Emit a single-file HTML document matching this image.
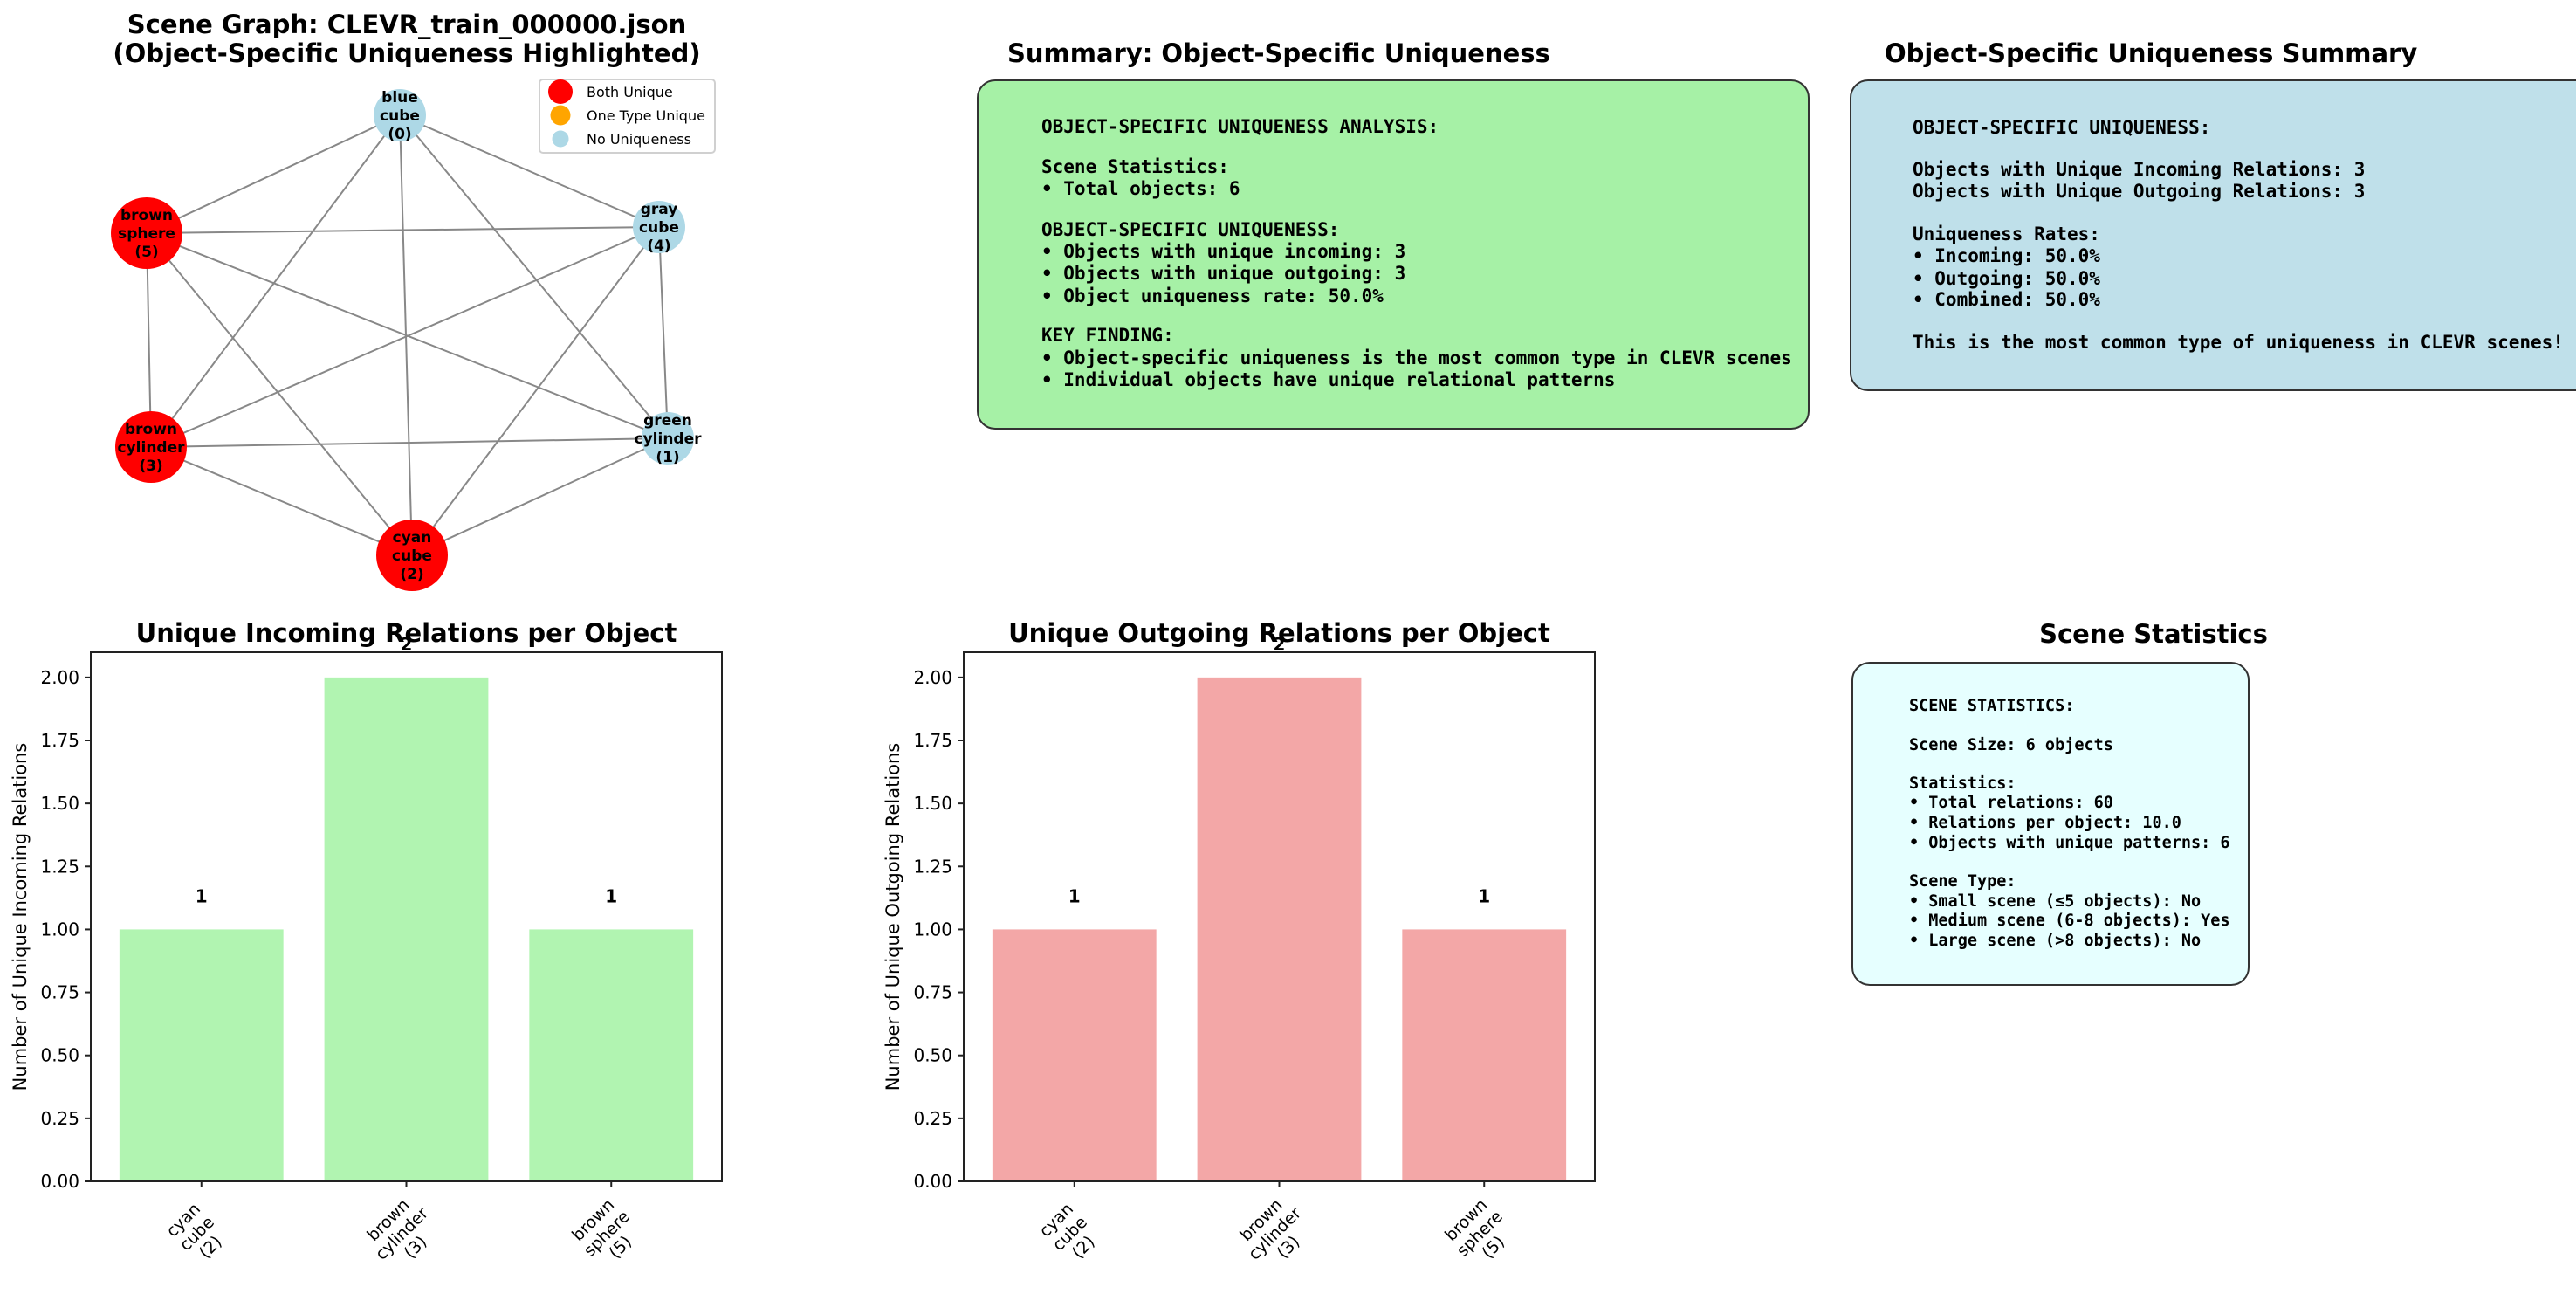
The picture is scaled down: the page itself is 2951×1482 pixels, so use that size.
<!DOCTYPE html>
<html><head><meta charset="utf-8"><title>CLEVR Object-Specific Uniqueness</title>
<style>
html,body{margin:0;padding:0;background:#fff;}
svg{display:block;}
text{font-family:"DejaVu Sans","Liberation Sans",sans-serif;fill:#000;}
.mono{font-family:"DejaVu Sans Mono","Liberation Mono",monospace;font-weight:bold;font-size:21px;}
.mono2{font-family:"DejaVu Sans Mono","Liberation Mono",monospace;font-weight:bold;font-size:18.5px;}
.ttl{font-weight:bold;font-size:29px;}
</style></head>
<body>
<svg id="fig" width="2951" height="1482" viewBox="0 0 2951 1482" xmlns="http://www.w3.org/2000/svg">
  <g id="graph">
    <text class="ttl" x="466" y="38" text-anchor="middle">Scene Graph: CLEVR_train_000000.json</text>
    <text class="ttl" x="466" y="71" text-anchor="middle">(Object-Specific Uniqueness Highlighted)</text>
    <g id="edges"></g>
    <g id="nodes"></g>
    <g>
      <rect x="618" y="91" width="201" height="84" rx="4" fill="#fff" stroke="#d0d0d0" stroke-width="2"/>
      <circle cx="642" cy="105" r="14" fill="#ff0000"/>
      <text x="672" y="111" font-size="16">Both Unique</text>
      <circle cx="642" cy="132" r="11.5" fill="#ffa500"/>
      <text x="672" y="138" font-size="16">One Type Unique</text>
      <circle cx="642" cy="159" r="9.5" fill="#add8e6"/>
      <text x="672" y="165" font-size="16">No Uniqueness</text>
    </g>
  </g>

  <g>
    <text class="ttl" x="1154" y="71">Summary: Object-Specific Uniqueness</text>
    <rect x="1120" y="92" width="952" height="399" rx="20" fill="#a6f1a6" stroke="#333" stroke-width="2"/>
    <g>
      <text class="mono" x="1193" y="152">OBJECT-SPECIFIC UNIQUENESS ANALYSIS:</text>
      <text class="mono" x="1193" y="198">Scene Statistics:</text>
      <text class="mono" x="1193" y="223">• Total objects: 6</text>
      <text class="mono" x="1193" y="270">OBJECT-SPECIFIC UNIQUENESS:</text>
      <text class="mono" x="1193" y="295">• Objects with unique incoming: 3</text>
      <text class="mono" x="1193" y="320">• Objects with unique outgoing: 3</text>
      <text class="mono" x="1193" y="346">• Object uniqueness rate: 50.0%</text>
      <text class="mono" x="1193" y="391">KEY FINDING:</text>
      <text class="mono" x="1193" y="417">• Object-specific uniqueness is the most common type in CLEVR scenes</text>
      <text class="mono" x="1193" y="442">• Individual objects have unique relational patterns</text>
    </g>
  </g>

  <g>
    <text class="ttl" x="2159" y="71">Object-Specific Uniqueness Summary</text>
    <rect x="2120" y="92" width="860" height="355" rx="20" fill="#bfe0ea" stroke="#333" stroke-width="2"/>
    <g>
      <text class="mono" x="2191" y="153">OBJECT-SPECIFIC UNIQUENESS:</text>
      <text class="mono" x="2191" y="201">Objects with Unique Incoming Relations: 3</text>
      <text class="mono" x="2191" y="226">Objects with Unique Outgoing Relations: 3</text>
      <text class="mono" x="2191" y="275">Uniqueness Rates:</text>
      <text class="mono" x="2191" y="300">• Incoming: 50.0%</text>
      <text class="mono" x="2191" y="326">• Outgoing: 50.0%</text>
      <text class="mono" x="2191" y="350">• Combined: 50.0%</text>
      <text class="mono" x="2191" y="399">This is the most common type of uniqueness in CLEVR scenes!</text>
    </g>
  </g>

  <g>
    <text class="ttl" x="2467" y="736" text-anchor="middle">Scene Statistics</text>
    <rect x="2122" y="759" width="454" height="369" rx="20" fill="#e6ffff" stroke="#333" stroke-width="2"/>
    <g>
      <text class="mono2" x="2187" y="814">SCENE STATISTICS:</text>
      <text class="mono2" x="2187" y="859">Scene Size: 6 objects</text>
      <text class="mono2" x="2187" y="903">Statistics:</text>
      <text class="mono2" x="2187" y="925">• Total relations: 60</text>
      <text class="mono2" x="2187" y="948">• Relations per object: 10.0</text>
      <text class="mono2" x="2187" y="971">• Objects with unique patterns: 6</text>
      <text class="mono2" x="2187" y="1015">Scene Type:</text>
      <text class="mono2" x="2187" y="1038">• Small scene (≤5 objects): No</text>
      <text class="mono2" x="2187" y="1060">• Medium scene (6-8 objects): Yes</text>
      <text class="mono2" x="2187" y="1083">• Large scene (&gt;8 objects): No</text>
    </g>
  </g>

  <g id="barIn"></g>
  <g id="barOut"></g>
</svg>
<script>
const NS = "http://www.w3.org/2000/svg";
const nodeIds = [0, 1, 2, 3, 4, 5];
const nodeLabels = [["blue","cube","(0)"],["green","cylinder","(1)"],["cyan","cube","(2)"],["brown","cylinder","(3)"],["gray","cube","(4)"],["brown","sphere","(5)"]];
const nodeStatus = ["none","none","both","both","none","both"];
const nodeX = [458, 765, 472, 173, 755, 168];
const nodeY = [132, 502, 636, 512, 260, 267];
const edgePairs = [[0,5],[0,3],[0,2],[0,1],[0,4],[5,4],[5,1],[5,2],[5,3],[4,3],[4,2],[4,1],[3,1],[3,2],[2,1]];
const barCategories = [["cyan","cube","(2)"],["brown","cylinder","(3)"],["brown","sphere","(5)"]];
const incomingValues = [1, 2, 1];
const outgoingValues = [1, 2, 1];
const yTickValues = [0, 0.25, 0.5, 0.75, 1.0, 1.25, 1.5, 1.75, 2.0];
const yTickLabels = ["0.00","0.25","0.50","0.75","1.00","1.25","1.50","1.75","2.00"];

function mk(tag, attrs, parent) {
  const e = document.createElementNS(NS, tag);
  for (const k in attrs) e.setAttribute(k, attrs[k]);
  parent.appendChild(e);
  return e;
}

const eg = document.getElementById('edges');
edgePairs.forEach(p => {
  const l = mk('line', {x1: nodeX[p[0]], y1: nodeY[p[0]], x2: nodeX[p[1]], y2: nodeY[p[1]], stroke: '#888', 'stroke-width': 2}, eg);
  
  
});
const ng = document.getElementById('nodes');
const statusColor = {both: '#ff0000', one: '#ffa500', none: '#add8e6'};
const statusR = {both: 41, one: 35, none: 30};
nodeIds.forEach(i => {
  const g = mk('g', {}, ng);
  
  
  mk('circle', {cx: nodeX[i], cy: nodeY[i], r: statusR[nodeStatus[i]], fill: statusColor[nodeStatus[i]]}, g);
  nodeLabels[i].forEach((s, k) => {
    const t = mk('text', {x: nodeX[i], y: nodeY[i] + (k - 1) * 21 + 6, 'text-anchor': 'middle', 'font-size': 17, 'font-weight': 'bold'}, g);
    t.textContent = s;
  });
});

function barChart(id, values, title, ylabel, color, x0) {
  const root = document.getElementById(id);
  const L = x0, R = x0 + 723, T = 747, B = 1353;
  const xMin = -0.54, xMax = 2.54, yMin = 0, yMax = 2.1;
  const sx = v => L + (v - xMin) / (xMax - xMin) * (R - L);
  const sy = v => B - (v - yMin) / (yMax - yMin) * (B - T);
  const tt = mk('text', {x: (L + R) / 2, y: 735, 'text-anchor': 'middle', class: 'ttl'}, root);
  tt.textContent = title;
  
  
  values.forEach((v, i) => {
    const r = mk('rect', {x: sx(i - 0.4), y: sy(v), width: sx(i + 0.4) - sx(i - 0.4), height: sy(0) - sy(v), fill: color}, root);
    
    
    const vl = mk('text', {x: sx(i), y: sy(v + 0.1) - 2, 'text-anchor': 'middle', 'font-size': 20, 'font-weight': 'bold'}, root);
    vl.textContent = String(v);
    
    
  });
  const frame = mk('rect', {x: L, y: T, width: R - L, height: B - T, fill: 'none', stroke: '#222', 'stroke-width': 2}, root);
  
  
  yTickValues.forEach((v, i) => {
    mk('line', {x1: L - 7, x2: L, y1: sy(v), y2: sy(v), stroke: '#222', 'stroke-width': 2}, root);
    const t = mk('text', {x: L - 13, y: sy(v) + 7, 'text-anchor': 'end', 'font-size': 20}, root);
    t.textContent = yTickLabels[i];
    
    
  });
  barCategories.forEach((c, i) => {
    mk('line', {x1: sx(i), x2: sx(i), y1: B, y2: B + 7, stroke: '#222', 'stroke-width': 2}, root);
    const cx = sx(i) - 5, cy = 1413;
    const g = mk('g', {transform: 'rotate(-45 ' + cx + ' ' + cy + ')'}, root);
    
    
    c.forEach((s, k) => {
      const t = mk('text', {x: cx, y: cy + (k - 1) * 22 + 6, 'text-anchor': 'middle', 'font-size': 19}, g);
      t.textContent = s;
    });
  });
  const yx = L - 74;
  const yl = mk('text', {x: yx, y: (T + B) / 2, 'text-anchor': 'middle', 'font-size': 21, transform: 'rotate(-90 ' + yx + ' ' + ((T + B) / 2) + ')'}, root);
  yl.textContent = ylabel;
  
  
}
barChart('barIn', incomingValues, 'Unique Incoming Relations per Object', 'Number of Unique Incoming Relations', '#b1f4b1', 104);
barChart('barOut', outgoingValues, 'Unique Outgoing Relations per Object', 'Number of Unique Outgoing Relations', '#f3a7a7', 1104);
</script>
</body></html>
